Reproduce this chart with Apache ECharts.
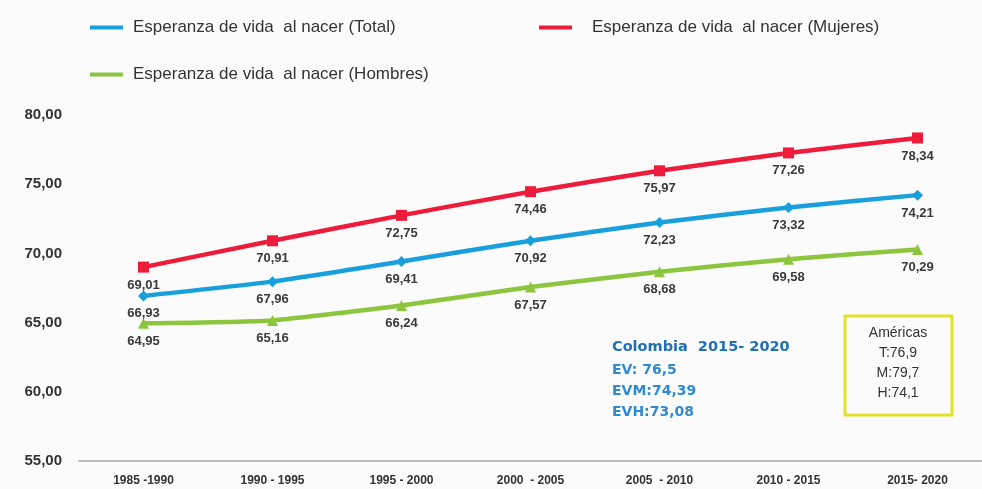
<!DOCTYPE html>
<html><head><meta charset="utf-8">
<script src="https://cdn.jsdelivr.net/npm/echarts@6/dist/echarts.min.js"></script>
<style>html,body{margin:0;padding:0;background:#fbfbfb}#c{width:982px;height:489px}</style>
</head><body><div id="c"></div>
<script>
const categories = ["1985 -1990", "1990 - 1995", "1995 - 2000", "2000  - 2005", "2005  - 2010", "2010 - 2015", "2015- 2020"];
const total = [66.93, 67.96, 69.41, 70.92, 72.23, 73.32, 74.21];
const mujeres = [69.01, 70.91, 72.75, 74.46, 75.97, 77.26, 78.34];
const hombres = [64.95, 65.16, 66.24, 67.57, 68.68, 69.58, 70.29];
const yTicks = [55, 60, 65, 70, 75, 80];
const names = ["Esperanza de vida  al nacer (Total)", "Esperanza de vida  al nacer (Mujeres)", "Esperanza de vida  al nacer (Hombres)"];
const colombiaText = ["Colombia  2015- 2020", "EV: 76,5", "EVM:74,39", "EVH:73,08"];
const americasText = ["Américas", "T:76,9", "M:79,7", "H:74,1"];

const lib = '"Liberation Sans",Arial,sans-serif';
const dv = '"DejaVu Sans",Verdana,sans-serif';
const fmt = v => v.toFixed(2).replace('.', ',');
const chart = echarts.init(document.getElementById('c'));
function mk(name, data, color, symbol, size) {
  return {
    name, type: 'line', data, smooth: 0.15, symbol, symbolSize: size,
    lineStyle: {color, width: 4.5}, itemStyle: {color},
    label: {show: true, position: 'bottom', distance: 6, formatter: p => fmt(p.value),
      color: '#3a3a3a', fontFamily: lib, fontWeight: 'bold', fontSize: 13}
  };
}
function leg(name, left, top, pad) {
  return {data: [name], left, top, itemWidth: 33, itemHeight: 4, icon: 'rect',
    textStyle: {color: '#333', fontSize: 17, fontFamily: lib, padding: [0, 0, 0, pad]}};
}
chart.setOption({
  backgroundColor: '#fbfbfb',
  animation: false,
  legend: [
    leg(names[0], 85, 14, 5),
    leg(names[1], 534, 14, 15),
    leg(names[2], 85, 61, 5)
  ],
  grid: {left: 79, right: -8, top: 115, bottom: 28},
  xAxis: {
    type: 'category', data: categories, boundaryGap: true,
    axisLine: {lineStyle: {color: '#bdbdbd', width: 2}}, axisTick: {show: false},
    axisLabel: {color: '#333', fontFamily: lib, fontWeight: 'bold', fontSize: 12, margin: 14}
  },
  yAxis: {
    type: 'value', min: yTicks[0], max: yTicks[yTicks.length - 1], interval: 5,
    axisLine: {show: false}, axisTick: {show: false}, splitLine: {show: false},
    axisLabel: {color: '#333', fontFamily: lib, fontWeight: 'bold', fontSize: 15, margin: 17, formatter: v => fmt(v)}
  },
  series: [
    mk(names[0], total, '#19a0dc', 'diamond', 11),
    mk(names[1], mujeres, '#ec1c3a', 'rect', 11),
    mk(names[2], hombres, '#8cc63e', 'triangle', 11)
  ],
  graphic: [
    {type: 'text', x: 612, y: 340, style: {text: colombiaText[0], fill: '#1f6fb5', font: 'bold 14.5px ' + dv}},
    {type: 'text', x: 612, y: 360, style: {text: colombiaText.slice(1).join('\n'), lineHeight: 21, fill: '#2f8ad0', font: 'bold 14px ' + dv}},
    {type: 'rect', x: 845, y: 316, shape: {width: 107, height: 99}, style: {fill: 'none', stroke: '#e2e22a', lineWidth: 3}},
    {type: 'text', x: 898, y: 323, style: {text: americasText.join('\n'), align: 'center', lineHeight: 20, fill: '#333', font: '14px ' + lib}}
  ]
});
</script></body></html>
